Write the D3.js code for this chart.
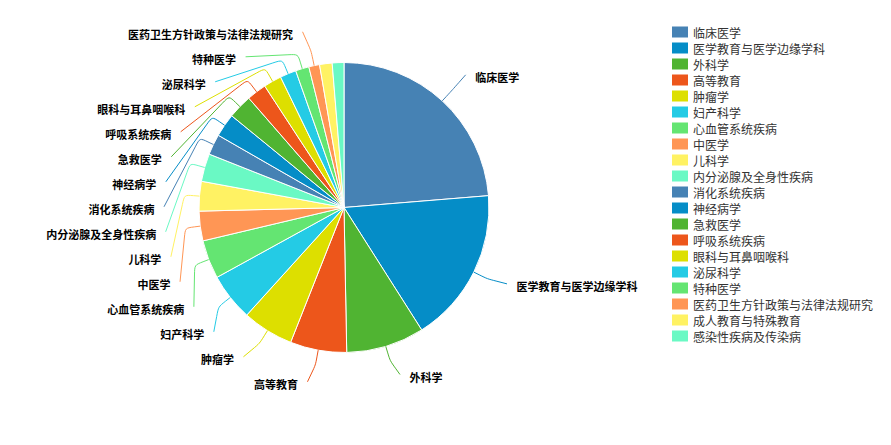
<!DOCTYPE html>
<html>
<head>
<meta charset="utf-8">
<script src="https://cdn.jsdelivr.net/npm/d3@7/dist/d3.min.js"></script>
<style>
  html, body { margin: 0; padding: 0; background: #fff; }
  svg { display: block; }
  .slice-label { font-family: "Noto Sans CJK SC", "Noto Sans", sans-serif; font-size: 11px; font-weight: bold; fill: #000; }
  .legend-text { font-family: "Noto Sans CJK SC", "Noto Sans", sans-serif; font-size: 12px; fill: #333; }
</style>
</head>
<body>
<svg id="chart" width="891" height="445"></svg>
<script>
// Subject categories, in drawing order (clockwise from 12 o'clock)
const categories = [
  "临床医学", "医学教育与医学边缘学科", "外科学", "高等教育", "肿瘤学",
  "妇产科学", "心血管系统疾病", "中医学", "儿科学", "内分泌腺及全身性疾病",
  "消化系统疾病", "神经病学", "急救医学", "呼吸系统疾病", "眼科与耳鼻咽喉科",
  "泌尿科学", "特种医学", "医药卫生方针政策与法律法规研究", "成人教育与特殊教育", "感染性疾病及传染病"
];
// Share of each category (%)
const values = [
  23.7, 17.3, 8.7, 6.3, 5.7,
  5.3, 4.3, 3.3, 3.3, 3.1,
  2.3, 2.6, 2.7, 2.2, 2.0,
  1.8, 1.5, 1.2, 1.4, 1.3
];
// Categories whose slice carries no outside label
const unlabeled = ["成人教育与特殊教育", "感染性疾病及传染病"];
const palette = ["#4682B4", "#058DC7", "#50B432", "#ED561B", "#DDDF00",
                 "#24CBE5", "#64E572", "#FF9655", "#FFF263", "#6AF9C4"];

const data = categories.map((name, i) => ({ name, value: values[i] }));
const color = d3.scaleOrdinal().domain(categories).range(palette);

const svg = d3.select("#chart");
const cx = 344, cy = 207.5, r = 145;
const lineLen = 15;        // first leg of the guide line
const labelRadius = 177;   // natural label anchor radius
const endRadius = 180;     // radius where a shifted guide line ends
const rowGap = 25;         // minimum vertical distance between labels

const pie = d3.pie().sort(null).value(d => d.value);
const arc = d3.arc().innerRadius(0).outerRadius(r);
const arcs = pie(data);

const g = svg.append("g").attr("transform", `translate(${cx},${cy})`);
g.selectAll("path.slice")
  .data(arcs)
  .join("path")
  .attr("class", "slice")
  .attr("d", arc)
  .attr("fill", d => color(d.data.name))
  .attr("stroke", "#fff")
  .attr("stroke-width", 1);

// Label layout: natural anchors, then push overlapping labels downward per side
const labels = arcs.filter(d => !unlabeled.includes(d.data.name)).map(d => {
  const a = (d.startAngle + d.endAngle) / 2;
  const dir = [Math.sin(a), -Math.cos(a)];
  return {
    d, a, dir,
    side: dir[0] < 0 ? -1 : 1,
    y: cy + labelRadius * dir[1]
  };
});

[-1, 1].forEach(side => {
  const list = labels.filter(l => l.side === side).sort((p, q) => p.y - q.y);
  for (let i = 1; i < list.length; i++) {
    if (list[i].y < list[i - 1].y + rowGap) list[i].y = list[i - 1].y + rowGap;
  }
  const bottom = 440;
  if (list.length && list[list.length - 1].y > bottom) {
    let shift = list[list.length - 1].y - bottom;
    for (let i = list.length - 1; i >= 0; i--) list[i].y -= shift;
  }
});

labels.forEach(l => {
  const lineY = l.y - 2.5;
  const dy = lineY - cy;
  const dx = Math.abs(dy) < r + lineLen
    ? Math.sqrt(endRadius * endRadius - dy * dy)
    : labelRadius * Math.abs(l.dir[0]) + 5;
  l.p0 = [cx + r * l.dir[0], cy + r * l.dir[1]];
  l.p1 = [cx + (r + lineLen) * l.dir[0], cy + (r + lineLen) * l.dir[1]];
  l.p2 = [cx + l.side * dx, lineY];
  l.tx = l.p2[0] + l.side * 9.5;
});

function toward(p, q, k) {
  const vx = q[0] - p[0], vy = q[1] - p[1];
  const len = Math.hypot(vx, vy) || 1;
  const t = Math.min(k / len, 0.6);
  return [p[0] + vx * t, p[1] + vy * t];
}
// Guide line with a rounded bend at the elbow point
function guide(l) {
  const a = toward(l.p1, l.p0, 10), b = toward(l.p1, l.p2, 10);
  const path = d3.path();
  path.moveTo(l.p0[0], l.p0[1]);
  path.lineTo(a[0], a[1]);
  path.bezierCurveTo(l.p1[0], l.p1[1], l.p1[0], l.p1[1], b[0], b[1]);
  path.lineTo(l.p2[0], l.p2[1]);
  return path.toString();
}

svg.append("g").selectAll("path")
  .data(labels)
  .join("path")
  .attr("d", guide)
  .attr("fill", "none")
  .attr("stroke", l => color(l.d.data.name))
  .attr("stroke-width", 1);

svg.append("g").selectAll("text")
  .data(labels)
  .join("text")
  .attr("class", "slice-label")
  .attr("x", l => l.tx)
  .attr("y", l => l.y)
  .attr("dominant-baseline", "central")
  .attr("text-anchor", l => l.side < 0 ? "end" : "start")
  .text(l => l.d.data.name);

// Legend
const legendY = d3.scalePoint().domain(categories).range([32, 32 + 16 * (categories.length - 1)]);
const legend = svg.append("g").selectAll("g")
  .data(categories)
  .join("g")
  .attr("transform", d => `translate(672,${legendY(d)})`);
legend.append("rect")
  .attr("x", 0).attr("y", -5.5)
  .attr("width", 16).attr("height", 11)
  .attr("fill", d => color(d));
legend.append("text")
  .attr("class", "legend-text")
  .attr("x", 21).attr("y", 0)
  .attr("dominant-baseline", "central")
  .text(d => d);
</script>
</body>
</html>
